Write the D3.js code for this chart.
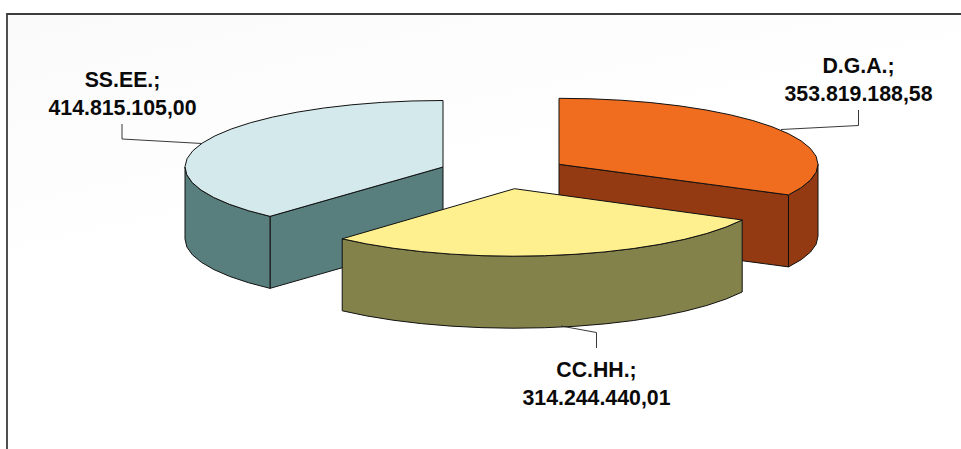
<!DOCTYPE html>
<html><head><meta charset="utf-8">
<script src="https://cdn.jsdelivr.net/npm/d3@7/dist/d3.min.js"></script>
<style>html,body{margin:0;padding:0;background:#fff;overflow:hidden}svg{display:block}</style>
</head><body><svg id="c" width="961" height="449"></svg>
<script>
const categories = ["D.G.A.", "CC.HH.", "SS.EE."];
const values = [353819188.58, 314244440.01, 414815105.00];
const valueLabels = ["353.819.188,58", "314.244.440,01", "414.815.105,00"];
const topColors = ["#F06C1E", "#FFF08F", "#D4E9EC"];
const sideColors = ["#943A12", "#84824B", "#587F7E"];
const apexX = [559, 514.5, 443];
const apexY = [164.3, 188.7, 167];
const radiiX = [259, 257, 258];
const radiiY = [66, 67.5, 66.5];
const depth = 72;
const labelX = [858.5, 596.5, 122.5];
const labelY = [73, 376.5, 87];
const leaderPts = [
  [[781,129.5],[858.5,125.5],[858.5,110]],
  [[561,326],[596.5,332.5],[596.5,348]],
  [[202,143.5],[122,139],[122,124]]
];

const svg = d3.select("#c");
const defs = svg.append("defs");
const g = defs.append("linearGradient").attr("id","bg").attr("x1",0).attr("y1",0).attr("x2",0.5).attr("y2",1);
g.append("stop").attr("offset",0).attr("stop-color","#fafafa");
g.append("stop").attr("offset",0.5).attr("stop-color","#ffffff");
svg.append("rect").attr("width",961).attr("height",449).attr("fill","#fff");
svg.append("rect").attr("x",7).attr("y",14).attr("width",954).attr("height",435).attr("fill","url(#bg)");
svg.append("path").attr("d","M7,449V14H961").attr("fill","none").attr("stroke","#3c3c3c").attr("stroke-width",1.8);

const arcs = d3.pie().sort(null).value(d=>d).startAngle(0).endAngle(2*Math.PI)(values);
const pt = (i,a,dy=0)=>[apexX[i]+radiiX[i]*Math.sin(a), apexY[i]-radiiY[i]*Math.cos(a)+dy];
const line = d3.line();
const sweep = (i,a0,a1,dy=0)=>{
  const step = 7*Math.PI/180, n = Math.max(1,Math.ceil(Math.abs(a1-a0)/step));
  return d3.range(n+1).map(k=>pt(i,a0+(a1-a0)*k/n,dy));
};
const stroke = "#111";
const poly = (pts,fill)=>svg.append("path").attr("d",line(pts)+"Z").attr("fill",fill).attr("stroke",stroke).attr("stroke-width",1).attr("stroke-linejoin","round");

[2,0,1].forEach(i=>{
  const a = arcs[i], s=a.startAngle, e=a.endAngle, ax=apexX[i], ay=apexY[i];
  if(i===0){ const p=pt(i,e); poly([[ax,ay],p,[p[0],p[1]+depth],[ax,ay+depth]],sideColors[i]); }
  if(i===2){ const p=pt(i,s); poly([[ax,ay],p,[p[0],p[1]+depth],[ax,ay+depth]],sideColors[i]); }
  const w0=Math.max(s,Math.PI/2), w1=Math.min(e,3*Math.PI/2);
  if(w1>w0) poly([...sweep(i,w0,w1),...sweep(i,w1,w0,depth)],sideColors[i]);
  poly([[ax,ay],...sweep(i,s,e)],topColors[i]);
});

leaderPts.forEach(p=>svg.append("path").attr("d",line(p)).attr("fill","none").attr("stroke","#222").attr("stroke-width",0.9));

categories.forEach((c,i)=>{
  const t = svg.append("text").attr("text-anchor","middle").attr("font-family","'Liberation Sans',Arial,sans-serif").attr("font-weight","700").attr("font-size",21.3).attr("fill","#0a0a0a");
  t.append("tspan").attr("x",labelX[i]).attr("y",labelY[i]).text(c+";");
  t.append("tspan").attr("x",labelX[i]).attr("y",labelY[i]+28).text(valueLabels[i]);
});
</script></body></html>
